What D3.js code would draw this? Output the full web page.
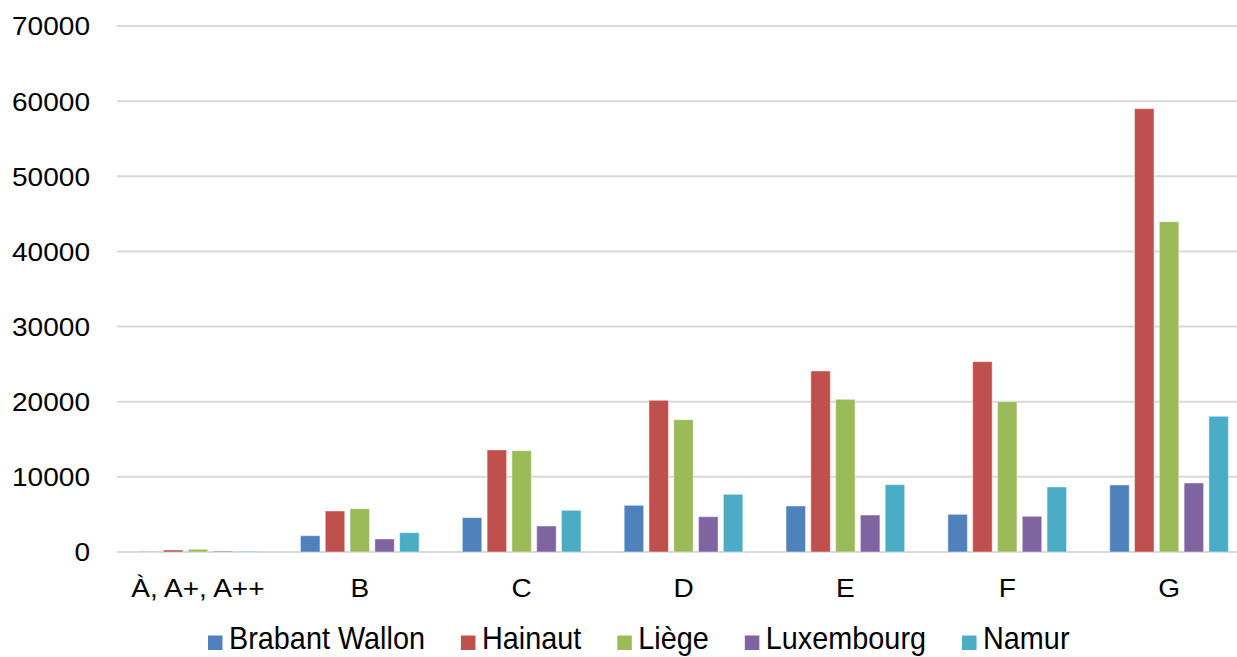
<!DOCTYPE html>
<html>
<head>
<meta charset="utf-8">
<script src="https://cdn.jsdelivr.net/npm/d3@7"></script>
<style>
  html, body { margin: 0; padding: 0; background: #fff; }
  svg { display: block; }
  text { font-family: "Liberation Sans", Arial, sans-serif; fill: #000; }
</style>
</head>
<body>
<svg id="chart" width="1237" height="657"></svg>
<script>
const categories = ["À, A+, A++", "B", "C", "D", "E", "F", "G"];
const seriesNames = ["Brabant Wallon", "Hainaut", "Liège", "Luxembourg", "Namur"];
const brabantWallon = [70, 2170, 4570, 6210, 6120, 5010, 8920];
const hainaut       = [270, 5460, 13580, 20190, 24090, 25330, 59000];
const liege         = [360, 5760, 13480, 17610, 20320, 20000, 43960];
const luxembourg    = [120, 1730, 3460, 4700, 4920, 4750, 9180];
const namur         = [100, 2570, 5550, 7680, 8960, 8650, 18060];
const yTicks = [0, 10000, 20000, 30000, 40000, 50000, 60000, 70000];
const colors = ["#4F81BD", "#C0504D", "#9BBB59", "#8064A2", "#4BACC6"];

const seriesValues = [brabantWallon, hainaut, liege, luxembourg, namur];

const svg = d3.select("#chart");
const plotLeft = 117, plotRight = 1250, plotTop = 26, plotBottom = 552;
const AX_SX = 1.1;    // horizontal stretch of axis labels
const LG_SX = 0.93;   // horizontal squeeze of legend labels

const y = d3.scaleLinear().domain([0, 70000]).range([plotBottom, plotTop]);
const x0 = d3.scaleBand().domain(categories).range([plotLeft, plotRight])
  .paddingInner(0.267).paddingOuter(0.1335);
const x1 = d3.scaleBand().domain(seriesNames).range([0, x0.bandwidth()])
  .paddingInner(0.214).paddingOuter(0);
const color = d3.scaleOrdinal().domain(seriesNames).range(colors);

// gridlines
svg.append("g")
  .selectAll("line").data(yTicks).join("line")
  .attr("x1", plotLeft).attr("x2", plotRight)
  .attr("y1", d => y(d)).attr("y2", d => y(d))
  .attr("stroke", "#D9D9D9").attr("stroke-width", 2);

// y axis labels
const yAxis = svg.append("g").attr("transform", `translate(${plotLeft},0)`)
  .call(d3.axisLeft(y).tickValues(yTicks).tickSize(0).tickPadding(0).tickFormat(d3.format("d")));
yAxis.select(".domain").remove();
yAxis.selectAll("text")
  .attr("x", -27 / AX_SX).attr("dy", "0.35em")
  .attr("transform", `scale(${AX_SX},1)`)
  .style("font-size", "25.5px").style("font-family", "Liberation Sans, Arial, sans-serif").attr("fill", "#000");

// bars
const data = categories.map((c, i) => ({cat: c, vals: seriesNames.map((s, j) => ({s, v: seriesValues[j][i]}))}));
svg.append("g").selectAll("g").data(data).join("g")
  .attr("transform", d => `translate(${x0(d.cat)},0)`)
  .selectAll("rect").data(d => d.vals).join("rect")
  .attr("x", d => x1(d.s))
  .attr("width", x1.bandwidth())
  .attr("y", d => y(d.v))
  .attr("height", d => y(0) - y(d.v))
  .attr("fill", d => color(d.s))
  .attr("stroke", "#ffffff").attr("stroke-opacity", 0.45).attr("stroke-width", 1);

// x axis labels
const xAxis = svg.append("g").attr("transform", `translate(0,${plotBottom})`)
  .call(d3.axisBottom(x0).tickSize(0).tickPadding(0));
xAxis.select(".domain").remove();
xAxis.selectAll(".tick").each(function() {
  const t = d3.select(this).select("text");
  t.attr("y", 45).attr("dy", null)
   .attr("transform", `scale(${AX_SX},1)`)
   .style("font-size", "25.5px").style("font-family", "Liberation Sans, Arial, sans-serif").attr("fill", "#000");
});

// legend
const legend = svg.append("g");
let lx = 208;
seriesNames.forEach((s, i) => {
  const g = legend.append("g").attr("transform", `translate(${lx},0)`);
  g.append("rect").attr("x", 0).attr("y", 635.5).attr("width", 14.5).attr("height", 14.5).attr("fill", colors[i]);
  const t = g.append("text").attr("x", 21 / LG_SX).attr("y", 649.5)
    .attr("transform", `scale(${LG_SX},1)`)
    .style("font-size", "31px").text(s);
  const w = t.node().getComputedTextLength() * LG_SX;
  lx += 21 + w + 36;
});
</script>
</body>
</html>
